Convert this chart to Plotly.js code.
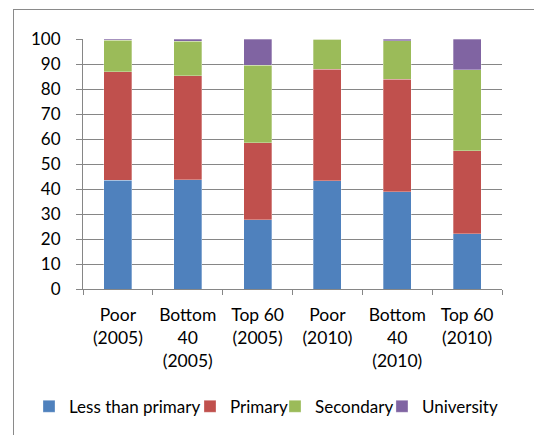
<!DOCTYPE html>
<html>
<head>
<meta charset="utf-8">
<script src="https://cdn.plot.ly/plotly-3.0.1.min.js"></script>
<style>
  html, body { margin: 0; padding: 0; background: #fff; }
  #frame { position: absolute; left: 13px; top: 9px; width: 540px; height: 440px; border-left: 1px solid #8a8a8a; border-top: 1px solid #8a8a8a; box-sizing: border-box; }
  #chart { position: absolute; left: 0; top: 0; width: 534px; height: 435px; }
</style>
</head>
<body>
<div id="frame"></div>
<div id="chart"></div>
<script>
var categories = ["Poor<br>(2005)", "Bottom<br>40<br>(2005)", "Top 60<br>(2005)", "Poor<br>(2010)", "Bottom<br>40<br>(2010)", "Top 60<br>(2010)"];
var lessThanPrimary = [43.5, 43.8, 27.8, 43.4, 39.0, 22.2];
var primary = [43.4, 41.5, 30.8, 44.6, 44.9, 33.1];
var secondary = [12.7, 13.9, 31.0, 11.9, 15.4, 32.4];
var university = [0.4, 0.8, 10.4, 0.1, 0.7, 12.3];
var yTicks = [0, 10, 20, 30, 40, 50, 60, 70, 80, 90, 100];

var seriesNames = ["Less than primary", "Primary", "Secondary", "University"];
var seriesValues = [lessThanPrimary, primary, secondary, university];
var colors = ["#4F81BD", "#C0504D", "#9BBB59", "#8064A2"];
var legendIds = ["legend", "legend2", "legend3", "legend4"];

var traces = seriesValues.map(function (vals, i) {
  return {
    type: "bar",
    name: seriesNames[i],
    x: categories,
    y: vals,
    legend: legendIds[i],
    marker: { color: colors[i], line: { color: "rgba(255,255,255,0.5)", width: 0.6 } },
    hoverinfo: "name+y"
  };
});

var font = "Lato, 'Open Sans', 'Liberation Sans', sans-serif";
var legendX = [0.0543, 0.3558, 0.5150, 0.7153];
function legendCfg(x) {
  return {
    orientation: "h",
    xref: "container",
    yref: "container",
    x: x, xanchor: "left",
    y: 0.065, yanchor: "middle",
    font: { family: font, size: 17, color: "#000" },
    itemwidth: 30,
    bgcolor: "rgba(0,0,0,0)"
  };
}

var layout = {
  width: 534,
  height: 435,
  margin: { l: 83, r: 32, t: 39, b: 146 },
  paper_bgcolor: "rgba(0,0,0,0)",
  plot_bgcolor: "rgba(0,0,0,0)",
  barmode: "stack",
  bargap: 0.6,
  font: { family: font, size: 15, color: "#000" },
  showlegend: true,
  legend: legendCfg(legendX[0]),
  legend2: legendCfg(legendX[1]),
  legend3: legendCfg(legendX[2]),
  legend4: legendCfg(legendX[3]),
  xaxis: {
    type: "category",
    showline: true,
    linecolor: "#868686",
    linewidth: 1,
    ticks: "outside",
    tickson: "boundaries",
    ticklen: 5,
    tickcolor: "#868686",
    showgrid: false,
    ticklabelstandoff: 10,
    tickfont: { family: font, size: 17.5, color: "#000" },
    automargin: false,
    fixedrange: true
  },
  yaxis: {
    range: [0, 100],
    tickvals: yTicks,
    ticktext: yTicks.map(String),
    showline: true,
    linecolor: "#868686",
    linewidth: 1,
    ticks: "outside",
    ticklen: 6,
    tickcolor: "#868686",
    showgrid: true,
    gridcolor: "#868686",
    gridwidth: 1,
    zeroline: false,
    ticklabelstandoff: 12,
    tickfont: { family: font, size: 17, color: "#000" },
    automargin: false,
    fixedrange: true
  }
};

Plotly.newPlot("chart", traces, layout, { displayModeBar: false, staticPlot: true });
</script>
</body>
</html>
